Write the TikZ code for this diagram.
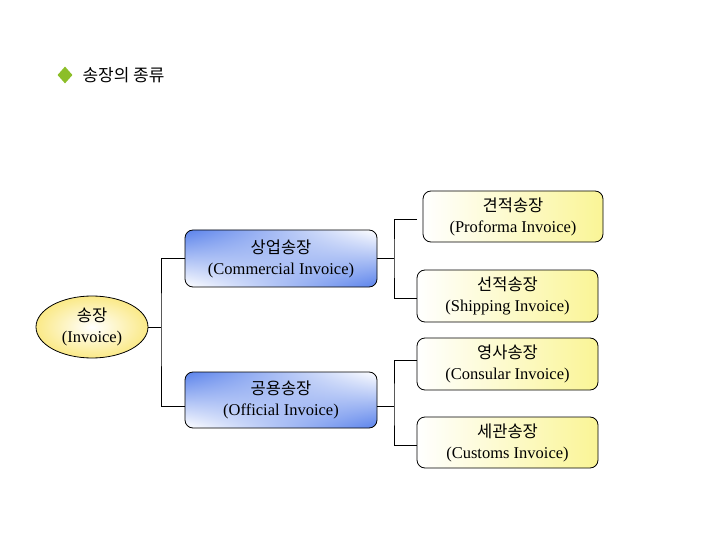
\documentclass[tikz,border=0pt]{standalone}
\usepackage{fontspec}
\setmainfont{Liberation Serif}
\newfontfamily\kr{Noto Sans CJK KR}
\usetikzlibrary{shapes.geometric,shadings}
\definecolor{bl}{RGB}{90,130,235}
\definecolor{yl}{RGB}{250,245,150}
\definecolor{dg}{RGB}{140,190,40}
\tikzset{
 lbl/.style={align=center,font=\fontsize{16.5}{21}\selectfont},
 bluebox/.style={draw,rounded corners=8pt,line width=0.8pt,upper left=bl,lower right=bl,upper right=white,lower left=white},
 yelbox/.style={draw,rounded corners=8pt,line width=0.8pt,left color=white,right color=yl},
 ln/.style={line width=0.8pt}
}
\begin{document}
\begin{tikzpicture}[x=1pt,y=-1pt]
\useasboundingbox (0,0) rectangle (720,540);
\node[diamond,fill=dg,minimum width=15pt,minimum height=17pt,inner sep=0pt] (dia) at (65,75) {};
\node[anchor=west,font=\kr\fontsize{17}{20}\selectfont] (title) at (79,75) {송장의 종류};
\node[ellipse,draw,line width=0.8pt,inner color=white,outer color=yl!90!orange,minimum width=112pt,minimum height=62pt] (inv) at (92,327) {};
\node[lbl] at (inv) {{\kr 송장}\\(Invoice)};
\foreach \n/\xa/\ya/\xb/\yb/\k/\e/\s in {com/185/230/377/287/상업송장/Commercial Invoice/bluebox, off/185/372/377/428/공용송장/Official Invoice/bluebox, pro/423/191/603/242/견적송장/Proforma Invoice/yelbox, shi/417/270/598/322/선적송장/Shipping Invoice/yelbox, con/417/338/598/390/영사송장/Consular Invoice/yelbox, cus/417/417/598/468/세관송장/Customs Invoice/yelbox}{
 \path[\s] (\xa,\ya) rectangle (\xb,\yb);
 \node[lbl] (\n) at ({(\xa+\xb)/2},{(\ya+\yb)/2}) {{\kr \k}\\(\e)};
}
\coordinate (j1) at (161,327);
\coordinate (j2) at (394,258);
\coordinate (j3) at (394,406);
\draw[ln] (148,327) -- (j1);
\draw[ln] (185,258) -| (j1) |- (185,406);
\draw[ln] (377,258) -- (j2);
\draw[ln] (417,219) -| (j2) |- (417,298);
\draw[ln] (377,406) -- (j3);
\draw[ln] (417,360) -| (j3) |- (417,445);
\end{tikzpicture}
\end{document}
